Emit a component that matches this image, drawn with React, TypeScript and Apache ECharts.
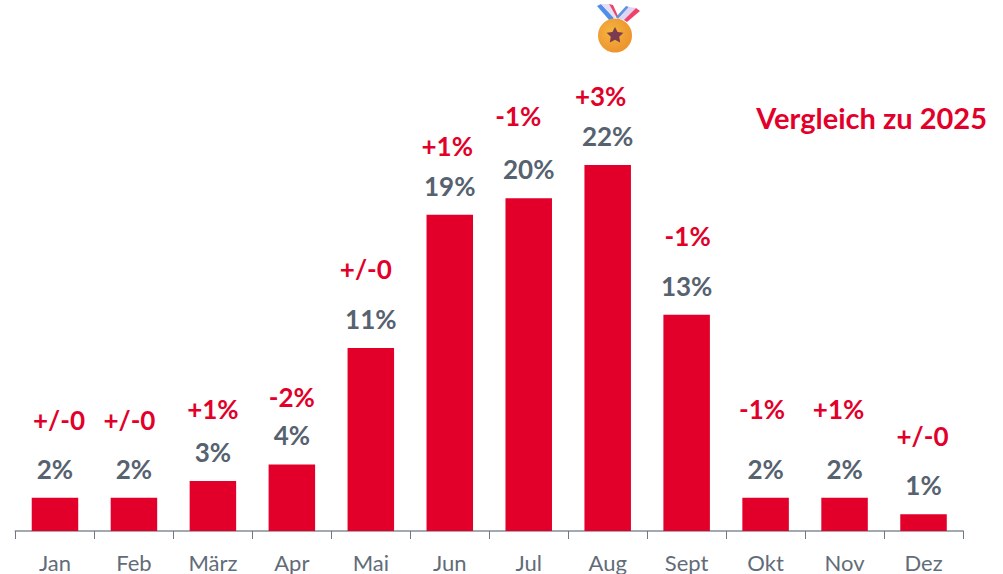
import React, { useEffect, useRef } from "react";
import * as echarts from "echarts";

const months = ["Jan", "Feb", "März", "Apr", "Mai", "Jun", "Jul", "Aug", "Sept", "Okt", "Nov", "Dez"];
const shares = [2, 2, 3, 4, 11, 19, 20, 22, 13, 2, 2, 1];
const changes = ["+/-0", "+/-0", "+1%", "-2%", "+/-0", "+1%", "-1%", "+3%", "-1%", "-1%", "+1%", "+/-0"];
const changeHeights = [6.65, 6.65, 7.35, 8.05, 15.75, 23.15, 24.95, 26.15, 17.7, 7.35, 7.35, 5.7];
const changeShiftX = [4, -4.5, 0, 0, -5, -2.5, -10.5, -7, 1, -3.5, -6, -1];

const FONT = "Lato, 'Noto Sans', sans-serif";
const RED = "#E2002A";
const SLATE = "#56626F";

export default function App() {
  const ref = useRef<HTMLDivElement>(null);
  useEffect(() => {
    const chart = echarts.init(ref.current!, null, { renderer: "svg" });
    chart.setOption({
      animation: false,
      grid: { left: 15.5, top: 31.8, width: 947.5, height: 499.2, containLabel: false },
      xAxis: {
        type: "category",
        data: months,
        axisLine: { lineStyle: { color: "#A3A9B0", width: 2 } },
        axisTick: { show: true, alignWithLabel: false, length: 8, lineStyle: { color: "#6E7782", width: 1 } },
        axisLabel: { color: "#626C78", fontFamily: FONT, fontSize: 22, margin: 20 },
      },
      yAxis: { type: "value", min: 0, max: 30, show: false, splitLine: { show: false } },
      series: [
        {
          type: "bar",
          data: shares,
          barWidth: 46.5,
          itemStyle: { color: RED },
          label: {
            show: true,
            position: "top",
            distance: 16,
            formatter: "{c}%",
            color: SLATE,
            fontFamily: FONT,
            fontWeight: "bold",
            fontSize: 26,
          },
        },
        {
          type: "scatter",
          data: changeHeights.map((v, i) => ({
            value: [months[i], v],
            label: { offset: [changeShiftX[i], 0] },
          })),
          symbolSize: 1,
          itemStyle: { color: "transparent", opacity: 1 },
          label: {
            show: true,
            position: "inside",
            formatter: (p: any) => changes[p.dataIndex],
            color: RED,
            opacity: 1,
            fontFamily: FONT,
            fontWeight: "bold",
            fontSize: 26,
          },
        },
      ],
      graphic: [
        {
          type: "text",
          right: 16,
          top: 103,
          style: { text: "Vergleich zu 2025", fill: RED, font: `bold 29px ${FONT}` },
        },
        {
          type: "group",
          x: 0,
          y: 0,
          children: [
            { type: "polygon", shape: { points: [[597, 6], [601, 4], [614, 18], [610, 21]] }, style: { fill: "#4F8FEA" } },
            { type: "polygon", shape: { points: [[601, 4], [609, 4], [617, 17], [614, 18]] }, style: { fill: "#E6E0F5" } },
            { type: "polygon", shape: { points: [[609, 4], [613, 5], [618, 16], [617, 18]] }, style: { fill: "#E8476A" } },
            { type: "polygon", shape: { points: [[626, 6], [629, 7], [618, 19], [616, 17]] }, style: { fill: "#5E93E6" } },
            { type: "polygon", shape: { points: [[629, 7], [636, 8], [625, 20], [618, 19]] }, style: { fill: "#DCD6F2" } },
            { type: "polygon", shape: { points: [[636, 8], [640, 11], [627, 22], [624, 20]] }, style: { fill: "#F2406A" } },
            {
              type: "circle",
              shape: { cx: 615, cy: 35.5, r: 17 },
              style: {
                fill: new echarts.graphic.RadialGradient(0.4, 0.4, 0.7, [
                  { offset: 0, color: "#F5B53F" },
                  { offset: 1, color: "#EC8F2C" },
                ]),
              },
            },
            {
              type: "polygon",
              shape: {
                points: [
                  [615, 27], [617.6, 32], [623.4, 32.8], [619.2, 36.8], [620.2, 42.6],
                  [615, 39.8], [609.8, 42.6], [610.8, 36.8], [606.6, 32.8], [612.4, 32],
                ],
              },
              style: { fill: "#7A3B4E" },
            },
          ],
        },
      ],
    });
    return () => chart.dispose();
  }, []);
  return <div ref={ref} style={{ width: 1003, height: 574, position: "absolute", left: 0, top: 0 }} />;
}
